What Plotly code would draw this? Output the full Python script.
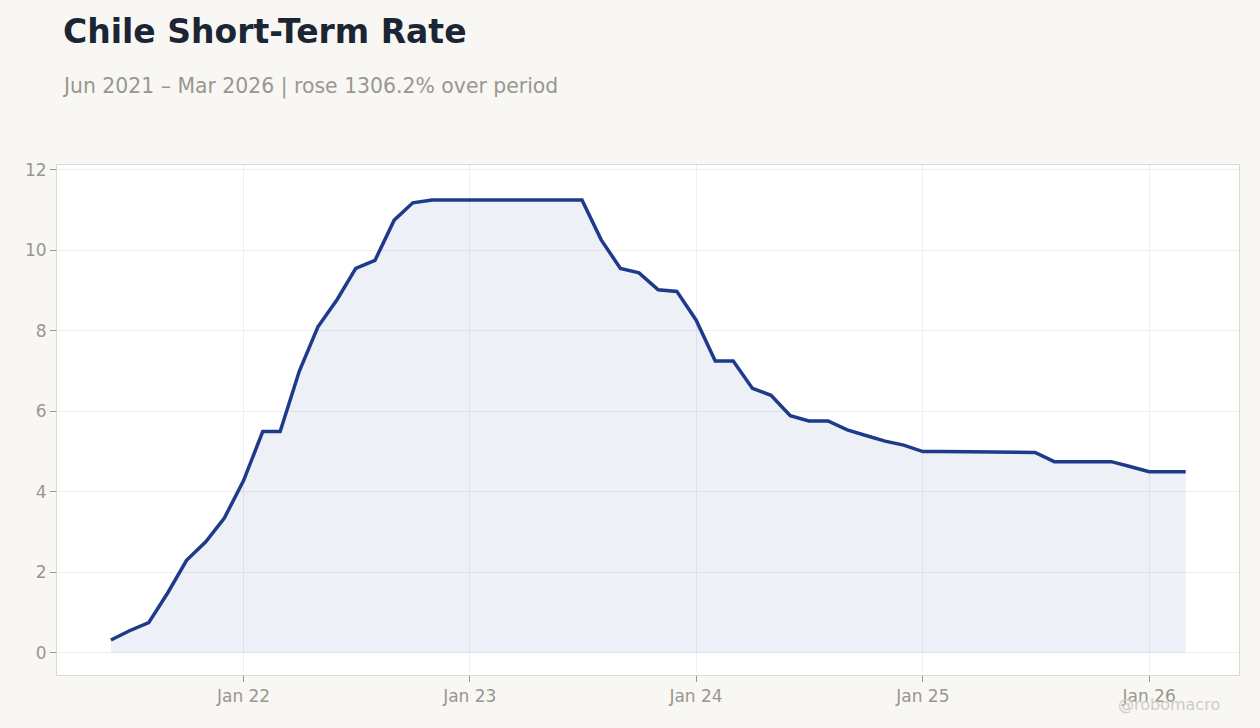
import pandas as pd
import plotly.graph_objects as go

# monthly short-term rate, Jun 2021 - Mar 2026
months = pd.date_range("2021-06-01", "2026-03-01", freq="MS")
rate = [
    # 2021 Jun-Dec
    0.32, 0.55, 0.75, 1.50, 2.30, 2.76, 3.35,
    # 2022
    4.28, 5.50, 5.50, 7.00, 8.10, 8.78, 9.55, 9.75, 10.75, 11.18, 11.25, 11.25,
    # 2023
    11.25, 11.25, 11.25, 11.25, 11.25, 11.25, 11.25, 10.26, 9.55, 9.44, 9.02, 8.98,
    # 2024
    8.27, 7.25, 7.25, 6.57, 6.40, 5.89, 5.76, 5.76, 5.54, 5.40, 5.26, 5.16,
    # 2025
    5.00, 5.00, 5.00, 5.00, 5.00, 5.00, 4.98, 4.75, 4.75, 4.75, 4.75, 4.63,
    # 2026 Jan-Mar
    4.50, 4.50, 4.50,
]

title = "Chile Short-Term Rate"
subtitle = "Jun 2021 – Mar 2026 | rose 1306.2% over period"
bg = "#f8f7f4"

fig = go.Figure()
fig.add_trace(
    go.Scatter(
        x=months,
        y=rate,
        mode="lines",
        line=dict(color="#1e3a8a", width=3.5),
        fill="tozeroy",
        fillcolor="rgba(30,58,138,0.08)",
        hoverinfo="x+y",
    )
)

fig.update_layout(
    width=1260,
    height=728,
    paper_bgcolor=bg,
    plot_bgcolor="#ffffff",
    showlegend=False,
    margin=dict(l=57, r=21, t=165, b=53),
    font=dict(family="DejaVu Sans", size=17, color="#9a9690"),
    title=dict(
        text="<b>" + title + "</b>",
        x=63 / 1260,
        xanchor="left",
        xref="container",
        y=1 - 31 / 728,
        yanchor="middle",
        yref="container",
        font=dict(size=33, color="#1c2533"),
    ),
)

fig.add_annotation(
    text=subtitle,
    xref="paper", yref="paper",
    x=0.0025, y=1 + 79 / 510,
    xanchor="left", yanchor="middle",
    showarrow=False,
    font=dict(size=20.4, color="#9a9690"),
)
fig.add_annotation(
    text="@robomacro",
    xref="paper", yref="paper",
    x=0.9856, y=-0.057,
    xanchor="right", yanchor="middle",
    showarrow=False,
    font=dict(size=16, color="#cfccc6"),
)

fig.update_xaxes(
    range=["2021-03-06", "2026-05-26"],
    tickformat="%b %y",
    dtick="M12",
    tick0="2022-01-01",
    showgrid=True,
    gridcolor="#eeeef0",
    showline=True,
    linecolor="#dedad3",
    mirror=True,
    ticks="outside",
    ticklen=6,
    tickcolor="#9a9690",
    zeroline=False,
)
fig.update_yaxes(
    range=[-0.55, 12.12],
    dtick=2,
    showgrid=True,
    gridcolor="#eeeef0",
    showline=True,
    linecolor="#dedad3",
    mirror=True,
    ticks="outside",
    ticklen=6,
    tickcolor="#9a9690",
    zeroline=False,
)

# drop the default body margin so the figure sits at the page corner
fig.write_html(
    "out.html",
    config={"displayModeBar": False},
    post_script="document.body.style.margin='0';document.body.style.background='%s';" % bg,
)
